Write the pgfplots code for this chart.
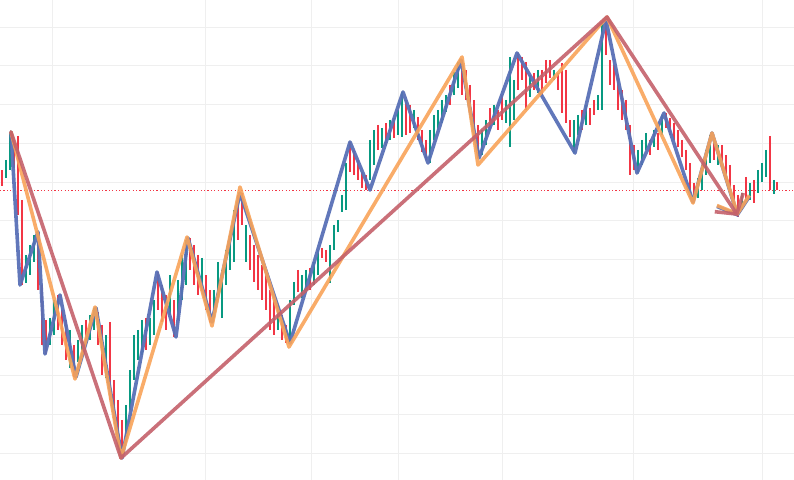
\documentclass[border=0pt]{standalone}
\usepackage{pgfplots}
\usepackage{pgfplotstable}
\pgfplotsset{compat=1.18}
\usetikzlibrary{arrows.meta}

\definecolor{gridc}{HTML}{EFEFEF}
\definecolor{upc}{HTML}{089981}
\definecolor{dnc}{HTML}{F23645}
\definecolor{zzblue}{HTML}{5870B6}
\definecolor{zzorange}{HTML}{F8A359}
\definecolor{zzred}{HTML}{C4606A}

% candles: x, top (high), bottom (low) -- pixel rows, y axis reversed
\pgfplotstableread{
x t b
6 160 178
10 132 170
26 255 283
30 245 275
34 235 262
50 318 345
54 300 335
70 330 368
78 340 362
82 325 350
90 315 340
94 308 330
106 335 378
126 405 440
130 370 410
134 335 380
138 330 360
142 320 355
150 318 345
154 300 335
170 275 315
178 280 320
182 255 300
186 240 285
202 258 290
214 290 318
218 262 300
222 270 318
226 250 285
230 235 270
234 210 262
246 225 262
278 305 330
290 300 343
294 282 305
302 275 298
306 270 292
314 262 285
318 250 275
330 245 283
334 225 250
338 220 232
342 195 212
346 163 210
370 140 180
374 130 165
382 128 148
390 120 140
398 110 135
402 92 137
414 110 128
430 130 163
434 115 140
438 110 130
442 100 123
446 95 112
454 72 95
458 62 88
482 130 155
486 120 145
494 105 125
506 100 123
510 57 147
514 80 120
530 75 97
538 70 93
554 70 80
574 120 153
578 115 135
586 105 125
598 95 110
602 22 110
638 150 173
642 140 165
646 133 150
654 130 147
662 115 135
698 178 198
702 165 190
706 150 175
710 135 163
718 145 165
742 193 210
750 183 200
758 170 193
762 163 182
766 150 177
774 180 194
}\upcandles

\pgfplotstableread{
x t b
2 170 186
14 140 168
18 136 215
22 200 285
38 232 290
42 285 345
46 320 354
58 295 330
62 310 345
66 320 360
74 345 377
86 320 345
98 312 345
102 325 375
110 322 400
114 380 420
118 400 440
122 420 458
146 318 350
158 272 310
162 285 322
166 295 330
174 300 337
190 238 270
194 245 285
198 255 295
206 275 310
210 290 322
238 195 240
242 193 225
250 235 270
254 245 282
258 255 290
262 265 300
266 270 310
270 290 330
274 300 335
282 315 340
286 325 343
298 270 292
310 268 290
322 248 258
326 250 262
350 142 172
354 150 175
358 160 180
362 172 188
366 175 190
378 125 150
386 123 145
394 118 138
406 100 135
410 105 133
418 117 140
422 130 152
426 140 160
450 85 105
462 60 95
466 70 100
470 85 115
474 100 140
478 125 158
490 108 130
498 110 130
502 95 120
518 53 90
522 57 80
526 62 110
534 73 90
542 70 95
546 60 83
550 60 78
558 73 90
562 63 113
566 70 123
570 120 137
582 110 130
590 108 125
594 100 115
606 20 55
610 60 85
614 65 90
618 75 110
622 90 120
626 100 130
630 125 175
634 145 170
650 140 155
658 133 150
666 113 128
670 118 135
674 123 140
678 130 147
682 140 157
686 150 170
690 163 193
694 183 202
714 137 160
722 145 167
726 155 180
730 165 190
734 185 205
738 195 217
746 177 200
754 180 203
770 136 190
777 182 190
}\dncandles

\begin{document}
\begin{tikzpicture}
\begin{axis}[
  width=794bp, height=480bp, scale only axis,
  xmin=0, xmax=794, ymin=0, ymax=480, y dir=reverse,
  axis line style={draw=none}, tick style={draw=none},
  xtick={52,205,311,398,502,633,762},
  ytick={27,65.75,...,460},
  xticklabels={}, yticklabels={},
  grid=major, grid style={color=gridc, line width=0.8bp},
  clip=true,
]
\coordinate (ll) at (rel axis cs:0,0);
\coordinate (ur) at (rel axis cs:1,1);

\addplot[dnc, line width=0.9bp, dash pattern=on 1.1bp off 2.3bp, forget plot]
  coordinates {(0,190) (794,190)};

\addplot[draw=none, mark=none, forget plot,
  error bars/.cd, y dir=plus, y explicit, error mark=none,
  error bar style={draw=upc, line width=1.7bp}]
  table[x=x, y=t, y error expr=\thisrow{b}-\thisrow{t}] {\upcandles};
\addplot[draw=none, mark=none, forget plot,
  error bars/.cd, y dir=plus, y explicit, error mark=none,
  error bar style={draw=dnc, line width=1.7bp}]
  table[x=x, y=t, y error expr=\thisrow{b}-\thisrow{t}] {\dncandles};

\addplot[zzblue, line width=3.6bp, opacity=0.95, line join=round, line cap=round,
  -{Straight Barb[length=14bp,width=34bp]}]
  coordinates {(11,132)(20,285)(38,232)(45,354)(60,295)(76,377)(96,308)(122,458)
  (157,272)(176,337)(188,238)(212,322)(240,193)(290,343)(350,142)(370,190)
  (403,92)(428,163)(461,60)(479,158)(517,53)(575,153)(606,20)(637,173)
  (664,113)(693,202)(712,133)(738,217)};
\addplot[zzorange, line width=3.6bp, opacity=0.9, line join=round, line cap=round,
  -{Straight Barb[length=14bp,width=34bp]}]
  coordinates {(11,132)(75,379)(95,307)(121,458)(187,237)(212,326)(240,187)
  (289,347)(462,57)(478,165)(607,17)(693,203)(712,133)(738,216)};
\addplot[zzred, line width=3.6bp, opacity=0.9, line join=round, line cap=round,
  -{Straight Barb[length=14bp,width=34bp]}]
  coordinates {(11,132)(121,458)(607,17)(738,216)};
\end{axis}
\pgfresetboundingbox
\path (ll) rectangle (ur);
\end{tikzpicture}
\end{document}
